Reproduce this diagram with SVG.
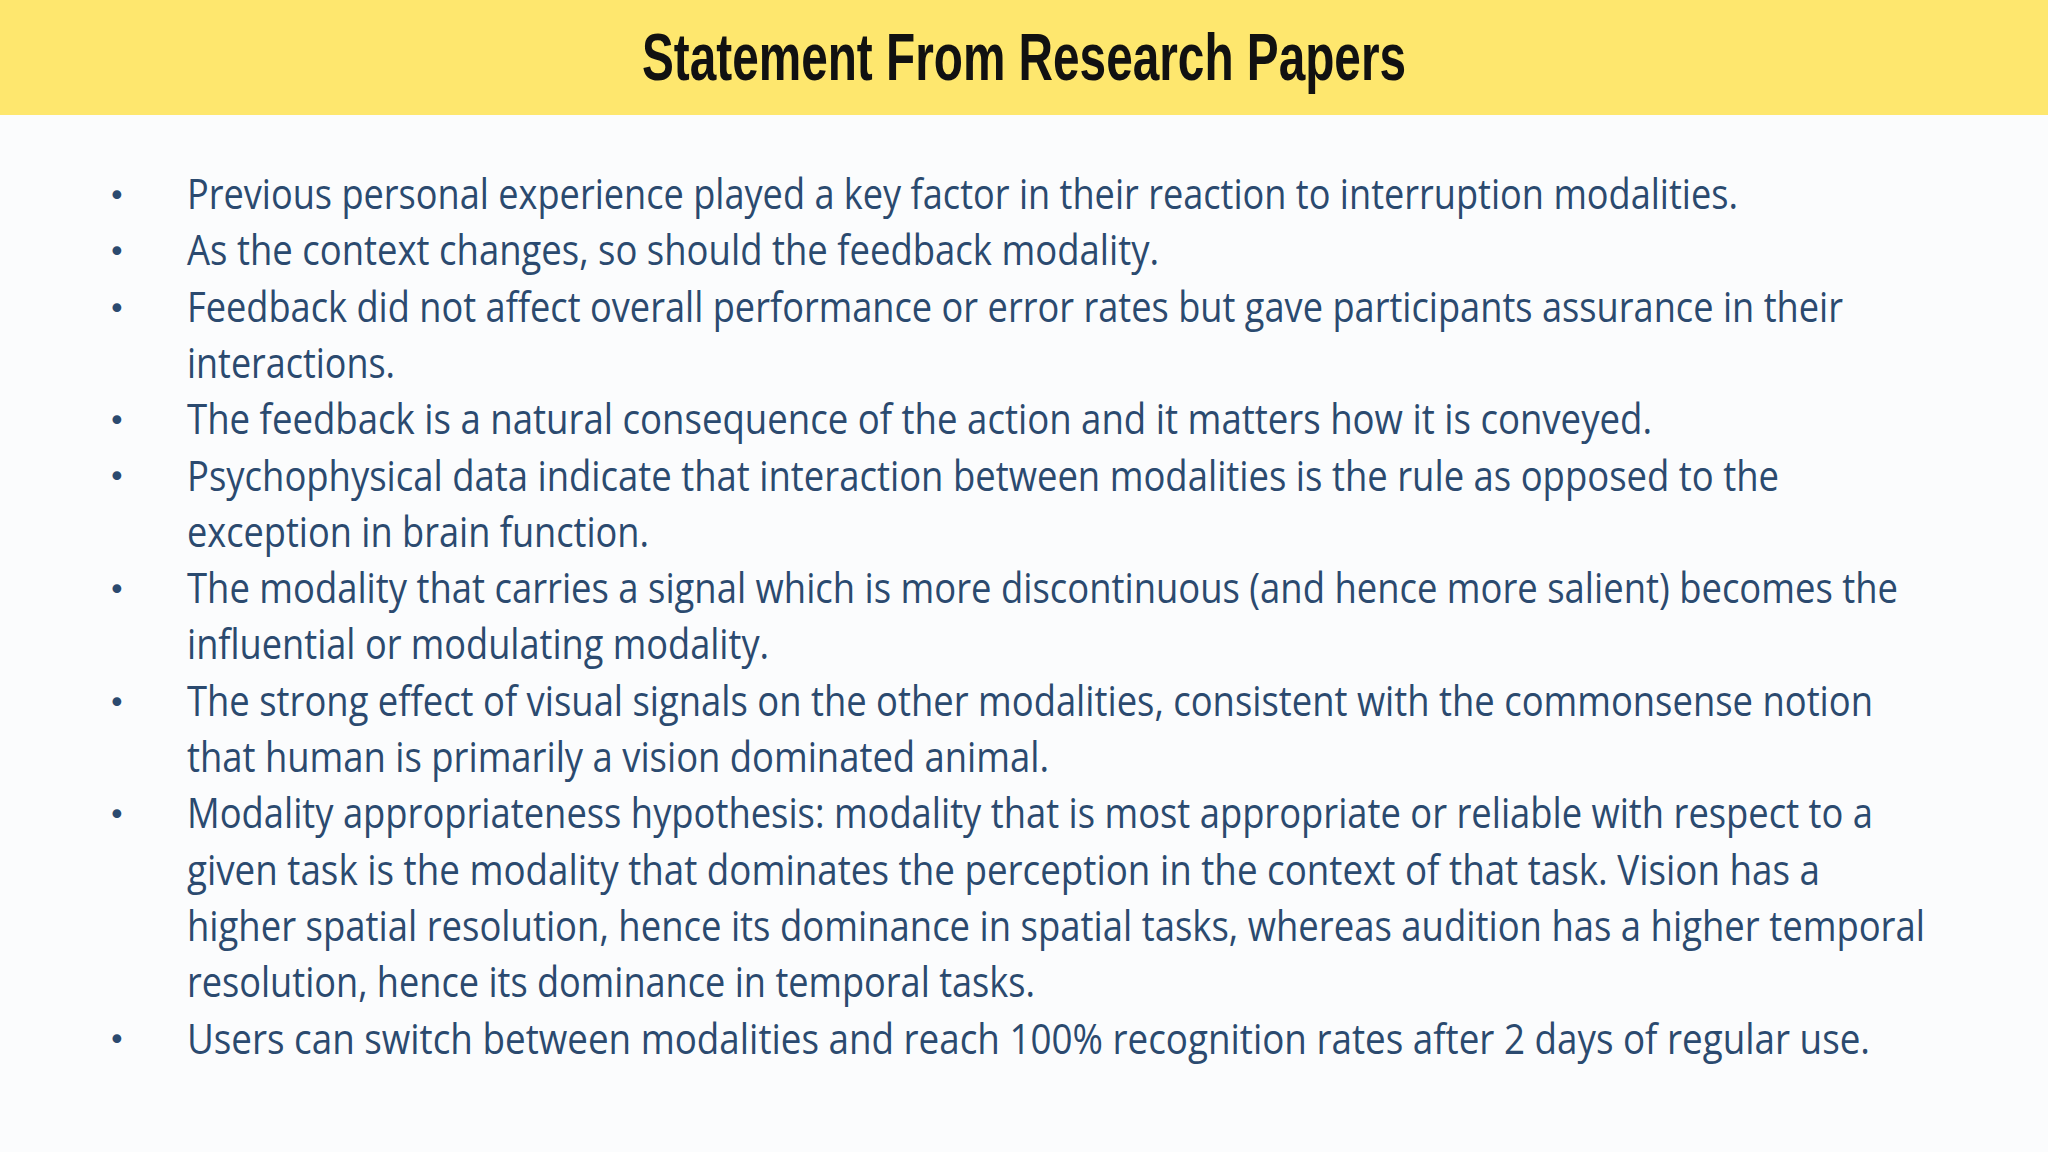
<svg xmlns="http://www.w3.org/2000/svg" width="2048" height="1152" viewBox="0 0 2048 1152">
<style>
.t{font-family:"Open Sans","Noto Sans",sans-serif;font-size:42px;fill:#2b4a6f}
.b{font-family:"DejaVu Sans",sans-serif;font-size:30px;fill:#2b4a6f}
.h{font-family:"Liberation Sans","Noto Sans",sans-serif;font-weight:bold;font-size:66px;fill:#111}
</style>
<rect width="2048" height="1152" fill="#fbfcfd"/>
<rect width="2048" height="115" fill="#fee76e"/>
<text class="h" x="1024" y="80" text-anchor="middle" textLength="764" lengthAdjust="spacingAndGlyphs">Statement From Research Papers</text>
<g id="bullets">
<text class="b" x="108" y="206">•</text>
<text class="b" x="108" y="262">•</text>
<text class="b" x="108" y="319">•</text>
<text class="b" x="108" y="431">•</text>
<text class="b" x="108" y="487">•</text>
<text class="b" x="108" y="600">•</text>
<text class="b" x="108" y="713">•</text>
<text class="b" x="108" y="825">•</text>
<text class="b" x="108" y="1050">•</text>
</g>
<g id="text">
<text class="t" x="187" y="209" textLength="1551" lengthAdjust="spacingAndGlyphs">Previous personal experience played a key factor in their reaction to interruption modalities.</text>
<text class="t" x="187" y="265" textLength="972" lengthAdjust="spacingAndGlyphs">As the context changes, so should the feedback modality.</text>
<text class="t" x="187" y="322" textLength="1656" lengthAdjust="spacingAndGlyphs">Feedback did not affect overall performance or error rates but gave participants assurance in their</text>
<text class="t" x="187" y="378" textLength="208" lengthAdjust="spacingAndGlyphs">interactions.</text>
<text class="t" x="187" y="434" textLength="1465" lengthAdjust="spacingAndGlyphs">The feedback is a natural consequence of the action and it matters how it is conveyed.</text>
<text class="t" x="187" y="491" textLength="1592" lengthAdjust="spacingAndGlyphs">Psychophysical data indicate that interaction between modalities is the rule as opposed to the</text>
<text class="t" x="187" y="547" textLength="462" lengthAdjust="spacingAndGlyphs">exception in brain function.</text>
<text class="t" x="187" y="603" textLength="1711" lengthAdjust="spacingAndGlyphs">The modality that carries a signal which is more discontinuous (and hence more salient) becomes the</text>
<text class="t" x="187" y="659" textLength="582" lengthAdjust="spacingAndGlyphs">influential or modulating modality.</text>
<text class="t" x="187" y="716" textLength="1686" lengthAdjust="spacingAndGlyphs">The strong effect of visual signals on the other modalities, consistent with the commonsense notion</text>
<text class="t" x="187" y="772" textLength="862" lengthAdjust="spacingAndGlyphs">that human is primarily a vision dominated animal.</text>
<text class="t" x="187" y="828" textLength="1686" lengthAdjust="spacingAndGlyphs">Modality appropriateness hypothesis: modality that is most appropriate or reliable with respect to a</text>
<text class="t" x="187" y="885" textLength="1633" lengthAdjust="spacingAndGlyphs">given task is the modality that dominates the perception in the context of that task. Vision has a</text>
<text class="t" x="187" y="941" textLength="1738" lengthAdjust="spacingAndGlyphs">higher spatial resolution, hence its dominance in spatial tasks, whereas audition has a higher temporal</text>
<text class="t" x="187" y="997" textLength="848" lengthAdjust="spacingAndGlyphs">resolution, hence its dominance in temporal tasks.</text>
<text class="t" x="187" y="1054" textLength="1683" lengthAdjust="spacingAndGlyphs">Users can switch between modalities and reach 100% recognition rates after 2 days of regular use.</text>
</g>
</svg>
